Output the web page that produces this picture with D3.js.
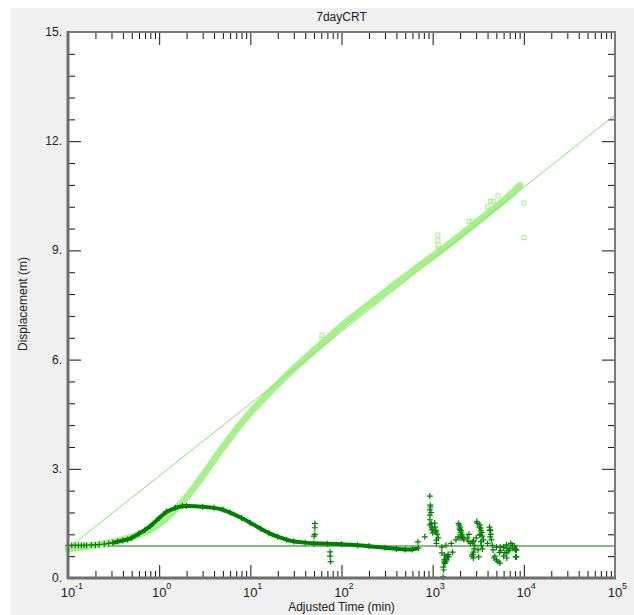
<!DOCTYPE html>
<html>
<head>
<meta charset="utf-8">
<script src="https://cdn.jsdelivr.net/npm/d3@7"></script>
<style>
  body { margin: 0; background: #ffffff; }
  svg { display: block; font-family: "Liberation Sans", Arial, sans-serif; }
</style>
</head>
<body>
<script>
// ---------------- data
var title = "7dayCRT";
var xTitle = "Adjusted Time (min)";
var yTitle = "Displacement (m)";

var xMajor = [0.1, 1, 10, 100, 1000, 10000, 100000];
var xExp = ["-1", "0", "1", "2", "3", "4", "5"];
var yMajor = [0, 3, 6, 9, 12, 15];
var yLabels = ["0.", "3.", "6.", "9.", "12.", "15."];

// displacement (light green squares)
var dispT = [0.1, 0.15, 0.2, 0.3, 0.5, 0.7, 1, 1.5, 2, 3, 5, 7, 10, 15, 20, 30, 50, 70, 100, 150, 200, 300, 500, 700, 1000, 1500, 2000, 3000, 5000, 7000, 9000];
var dispV = [0.8, 0.85, 0.9, 0.97, 1.12, 1.25, 1.45, 1.88, 2.2, 2.8, 3.6, 4.08, 4.56, 5.0, 5.33, 5.76, 6.25, 6.57, 6.93, 7.27, 7.52, 7.86, 8.28, 8.56, 8.84, 9.16, 9.4, 9.76, 10.2, 10.5, 10.78];
var dispOddT = [61, 61, 1140, 1140, 1150, 1160, 1200, 2300, 2500, 2700, 4000, 4300, 4600, 5200, 10000, 10000];
var dispOddV = [6.67, 6.55, 9.42, 9.28, 9.15, 9.05, 9.0, 9.55, 9.8, 9.8, 10.2, 10.35, 10.35, 10.5, 10.3, 9.35];

// straight-line fit (thin line)
var fitT = [0.1, 100000];
var fitV = [0.82, 12.72];

// horizontal line
var hLineV = 0.88;

// derivative (dark green +)
var derivT = [0.1, 0.11, 0.12, 0.13, 0.14, 0.15, 0.16, 0.18, 0.2, 0.22, 0.25, 0.28, 0.31, 0.35, 0.4, 0.45,
  0.5, 0.6, 0.7, 0.8, 1, 1.2, 1.5, 1.8, 2, 3, 4, 5, 6, 8, 10, 13, 16, 20, 25, 30, 40, 50, 70, 100, 150, 200, 300, 400, 500, 600, 700];
var derivV = [0.9, 0.9, 0.9, 0.9, 0.9, 0.9, 0.9, 0.91, 0.91, 0.92, 0.93, 0.95, 0.97, 1.0, 1.03, 1.06,
  1.1, 1.22, 1.32, 1.42, 1.65, 1.83, 1.93, 1.98, 1.98, 1.96, 1.93, 1.88, 1.8, 1.65, 1.52, 1.35, 1.23, 1.13, 1.05, 1.0, 0.97, 0.95, 0.94, 0.93, 0.9, 0.88, 0.83, 0.8, 0.78, 0.78, 0.82];
var derivOddT = [51, 51, 51, 50, 75, 75, 76,
  689, 820, 931, 931, 931, 931, 931, 980, 1000, 1050, 1080, 1100, 1260, 1260, 1350, 1400, 1300, 1320, 1330, 1340, 1500, 1650,
  1990, 2000, 2050, 1900, 2150, 2760, 2800, 2800, 3300, 3350, 3300, 3150, 3200, 4280, 4280, 4600, 4700, 6460, 6500, 8100, 8100, 7900, 5460, 6500, 8300, 8300,
  1100, 1400, 1600, 1800, 2000, 2200, 2500, 2800, 3000, 3300, 3600, 4000, 4500, 5000, 5500, 6000, 6500, 7000, 7500, 8000,
  940, 950, 960, 970, 980, 990, 1060, 1090, 1120, 1150,
  1310, 1360, 1420, 1450, 1480, 1390,
  1920, 1950, 1980, 2030, 2080, 2120, 2400, 2500, 2600,
  3050, 3100, 3250, 3400, 3450, 3500, 3380, 3420, 3520, 2700, 2750, 2850, 2900,
  4200, 4250, 4350, 4400, 4800, 5000, 5200, 5400, 5600, 6000, 6200, 6800, 7200, 7500];
var derivOddV = [1.5, 1.38, 1.2, 1.15, 0.72, 0.6, 0.45,
  0.99, 1.13, 2.25, 1.87, 1.73, 1.6, 1.46, 1.32, 1.24, 1.51, 1.26, 1.04, 0.85, 0.69, 0.63, 0.55, 0.03, 0.22, 0.44, 0.5, 0.58, 0.71,
  1.32, 1.4, 1.3, 1.13, 1.1, 0.99, 0.55, 0.71, 1.46, 1.37, 1.18, 0.77, 0.58, 1.32, 1.13, 0.77, 0.55, 0.91, 0.69, 0.77, 0.58, 0.88, 0.41, 0.55, 0.58, 0.77,
  0.95, 0.9, 0.95, 1.05, 1.1, 1.05, 1.0, 1.02, 1.1, 1.2, 1.05, 0.95, 0.9, 0.85, 0.85, 0.85, 0.82, 0.8, 0.82, 0.8,
  2.0, 1.95, 1.8, 1.5, 1.4, 1.35, 1.4, 1.3, 1.2, 1.1,
  0.3, 0.4, 0.5, 0.6, 0.65, 0.45,
  1.5, 1.45, 1.35, 1.25, 1.2, 1.15, 1.1, 1.2, 0.95,
  1.55, 1.5, 1.4, 1.3, 1.25, 1.15, 1.0, 0.9, 0.8, 0.6, 0.65, 0.8, 0.9,
  1.4, 1.3, 1.2, 1.05, 0.6, 0.5, 0.45, 0.7, 0.75, 0.6, 0.7, 0.75, 0.95, 0.9];

// ---------------- colours
var back_color = "#f0f0f0";
var light_col = "#a8ef8e";
var fit_col = "#86e468";
var dark_col = "#008000";
var hline_col = "#8db48d";
var frame_col = "#6e6e6e";
var text_col = "#222222";

var W = 634, H = 615;
var margin = { top: 32, right: 19, bottom: 37, left: 68 },
  width = W - margin.left - margin.right,
  height = H - margin.top - margin.bottom;

var svgRoot = d3.select("body").append("svg")
  .attr("width", W)
  .attr("height", H);

// gray panel
svgRoot.append("rect")
  .attr("x", 11).attr("y", 8)
  .attr("width", W - 11).attr("height", H - 8)
  .style("fill", back_color);

var svg = svgRoot.append("g")
  .attr("transform", "translate(" + margin.left + "," + margin.top + ")");

svg.append("rect")
  .attr("width", width).attr("height", height)
  .style("fill", "white");

var x = d3.scaleLog().domain([0.1, 100000]).range([0, width]);
var y = d3.scaleLinear().domain([0, 15]).range([height, 0]);

// minor tick values
var xMinor = [];
xMajor.slice(0, -1).forEach(function (d) {
  for (var k = 2; k <= 9; k++) xMinor.push(d * k);
});
var yMinor = d3.range(0, 15.01, 0.6).filter(function (d) { return Math.abs(d % 3) > 0.01 && Math.abs(d % 3 - 3) > 0.01; });

function tickAxis(axisFn, scale, vals, size, tr) {
  var g = svg.append("g")
    .attr("transform", tr)
    .call(axisFn(scale).tickValues(vals).tickSize(size).tickFormat(""));
  g.select(".domain").remove();
  g.selectAll("line").style("stroke", "#111").style("stroke-width", 1);
}

tickAxis(d3.axisBottom, x, xMajor, -13, "translate(0," + height + ")");
tickAxis(d3.axisBottom, x, xMinor, -7, "translate(0," + height + ")");
tickAxis(d3.axisTop, x, xMajor, -13, "translate(0,0)");
tickAxis(d3.axisTop, x, xMinor, -7, "translate(0,0)");
tickAxis(d3.axisLeft, y, yMajor, -13, "translate(0,0)");
tickAxis(d3.axisLeft, y, yMinor, -7, "translate(0,0)");
tickAxis(d3.axisRight, y, yMajor, -13, "translate(" + width + ",0)");
tickAxis(d3.axisRight, y, yMinor, -7, "translate(" + width + ",0)");

var plot = svg.append("g");

// horizontal line
plot.append("line")
  .attr("x1", 0).attr("x2", width)
  .attr("y1", y(hLineV)).attr("y2", y(hLineV))
  .style("stroke", hline_col)
  .style("stroke-width", 2);

// displacement band
var disp = dispT.map(function (t, i) { return [t, dispV[i]]; });
var line = d3.line()
  .x(function (d) { return x(d[0]); })
  .y(function (d) { return y(d[1]); })
  .curve(d3.curveBasis);

plot.append("path")
  .datum(disp)
  .attr("d", line)
  .style("fill", "none")
  .style("stroke", light_col)
  .style("stroke-width", 7)
  .style("stroke-linecap", "round");

plot.selectAll("rect.disp")
  .data(disp.slice(0, 6).concat(dispOddT.map(function (t, i) { return [t, dispOddV[i]]; })))
  .enter().append("rect")
  .attr("class", "disp")
  .attr("x", function (d) { return x(d[0]) - 2; })
  .attr("y", function (d) { return y(d[1]) - 2; })
  .attr("width", 4).attr("height", 4)
  .style("fill", "none")
  .style("stroke", light_col)
  .style("stroke-width", 1);

// fit line
plot.append("path")
  .datum(fitT.map(function (t, i) { return [t, fitV[i]]; }))
  .attr("d", d3.line().x(function (d) { return x(d[0]); }).y(function (d) { return y(d[1]); }))
  .style("fill", "none")
  .style("stroke", fit_col)
  .style("stroke-width", 1);

// derivative
var deriv = derivT.map(function (t, i) { return [t, derivV[i]]; });
plot.append("path")
  .datum(deriv.filter(function (d) { return d[0] >= 0.3; }))
  .attr("d", line)
  .style("fill", "none")
  .style("stroke", dark_col)
  .style("stroke-width", 4);

plot.selectAll("path.plus")
  .data(deriv.concat(derivOddT.map(function (t, i) { return [t, derivOddV[i]]; })))
  .enter().append("path")
  .attr("class", "plus")
  .attr("d", "M-3,0H3M0,-3V3")
  .attr("transform", function (d) { return "translate(" + x(d[0]) + "," + y(d[1]) + ")"; })
  .style("fill", "none")
  .style("stroke", dark_col)
  .style("stroke-width", 1.2);

// frame
svg.append("rect")
  .attr("width", width).attr("height", height)
  .style("fill", "none")
  .style("stroke", "#7a7a7a")
  .style("stroke-width", 2);
svg.append("line")
  .attr("x1", 0).attr("x2", 0).attr("y1", -1).attr("y2", height + 1)
  .style("stroke", frame_col).style("stroke-width", 3);
svg.append("line")
  .attr("x1", -1).attr("x2", width + 1).attr("y1", height).attr("y2", height)
  .style("stroke", frame_col).style("stroke-width", 3);

// tick labels
svg.selectAll("text.ylab")
  .data(yMajor)
  .enter().append("text")
  .attr("class", "ylab")
  .attr("x", -6)
  .attr("y", function (d) { return y(d) + 4; })
  .attr("text-anchor", "end")
  .style("font-size", "12px")
  .style("fill", text_col)
  .text(function (d, i) { return yLabels[i]; });

var xl = svg.selectAll("g.xlab")
  .data(xMajor)
  .enter().append("g")
  .attr("class", "xlab")
  .attr("transform", function (d) { return "translate(" + x(d) + "," + (height + 19) + ")"; });
xl.append("text")
  .attr("text-anchor", "middle")
  .style("font-size", "13px")
  .style("fill", text_col)
  .text("10");
xl.append("text")
  .attr("x", 7)
  .attr("y", -8)
  .style("font-size", "9px")
  .style("fill", text_col)
  .text(function (d, i) { return xExp[i]; });

// titles
svgRoot.append("text")
  .attr("x", margin.left + width / 2)
  .attr("y", 21)
  .attr("text-anchor", "middle")
  .style("font-size", "12px")
  .style("fill", text_col)
  .text(title);

svgRoot.append("text")
  .attr("x", margin.left + width / 2)
  .attr("y", 611)
  .attr("text-anchor", "middle")
  .style("font-size", "12px")
  .style("fill", text_col)
  .text(xTitle);

svgRoot.append("text")
  .attr("transform", "translate(27," + 304 + ") rotate(-90)")
  .attr("text-anchor", "middle")
  .style("font-size", "12px")
  .style("fill", text_col)
  .text(yTitle);
</script>
</body>
</html>
